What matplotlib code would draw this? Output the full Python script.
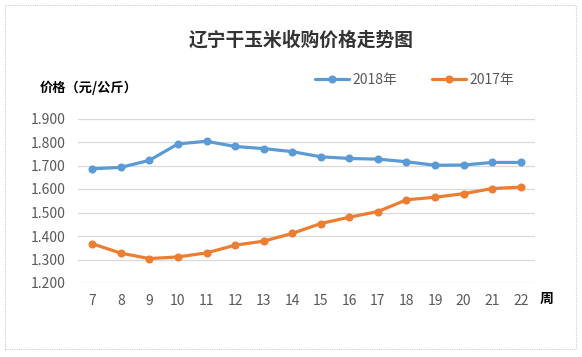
import matplotlib
matplotlib.use("Agg")
import matplotlib.pyplot as plt
from matplotlib.patches import Rectangle

plt.rcParams['font.family'] = ['Noto Sans CJK SC', 'DejaVu Sans']

# week numbers on the x axis
weeks = [7, 8, 9, 10, 11, 12, 13, 14, 15, 16, 17, 18, 19, 20, 21, 22]
# price in yuan / kg
price_2018 = [1.686, 1.692, 1.722, 1.792, 1.803, 1.781, 1.772, 1.759,
              1.737, 1.730, 1.727, 1.716, 1.701, 1.702, 1.713, 1.713]
price_2017 = [1.367, 1.327, 1.304, 1.311, 1.328, 1.361, 1.378, 1.411,
              1.453, 1.480, 1.504, 1.554, 1.565, 1.580, 1.602, 1.608]
y_ticks = [1.2, 1.3, 1.4, 1.5, 1.6, 1.7, 1.8, 1.9]

BLUE = '#5b9bd5'
ORANGE = '#ed7d31'
GRID = '#d9d9d9'
TXT = '#595959'

W, H = 582, 357
fig = plt.figure(figsize=(W / 100, H / 100), dpi=100)

# dotted outer frame
fig.patches.append(Rectangle((5 / W, 1 - 349 / H), 571 / W, 344 / H,
                             transform=fig.transFigure, fill=False,
                             edgecolor='#cfcfcf', linestyle=(0, (1, 1)), lw=0.8))

left, right = 78 / W, 535 / W
top, bottom = 1 - 118.5 / H, 1 - 283 / H
ax = fig.add_axes([left, bottom, right - left, top - bottom])

x = list(range(len(weeks)))
ax.plot(x, price_2018, color=BLUE, lw=2.3, marker='o', ms=4.8, label='2018年',
        solid_capstyle='round', zorder=3)
ax.plot(x, price_2017, color=ORANGE, lw=2.3, marker='o', ms=4.8, label='2017年',
        solid_capstyle='round', zorder=3)

ax.set_xlim(-0.5, len(weeks) - 0.5)
ax.set_ylim(1.2, 1.9)
ax.set_yticks(y_ticks)
ax.set_yticklabels([f'{v:.3f}' for v in y_ticks])
ax.set_xticks(x)
ax.set_xticklabels([str(w) for w in weeks])
ax.tick_params(length=0, colors=TXT, labelsize=10)
ax.tick_params(axis='y', pad=9)
ax.tick_params(axis='x', pad=8)
ax.grid(axis='y', color=GRID, lw=0.9)
ax.set_axisbelow(True)
for s in ax.spines.values():
    s.set_visible(False)

fig.text(301 / W, 1 - 40 / H, '辽宁干玉米收购价格走势图', ha='center', va='center',
         fontsize=13.5, fontweight='bold', color='#333333')
fig.text(40 / W, 1 - 88 / H, '价格（元/公斤）', ha='left', va='center',
         fontsize=9.5, fontweight='bold', color='black')
fig.text(547 / W, 1 - 299 / H, '周', ha='center', va='center',
         fontsize=10, fontweight='bold', color='black')

fig.legend(loc='center', bbox_to_anchor=(415 / W, 1 - 80 / H), ncol=2,
           frameon=False, fontsize=10, handlelength=2.4, columnspacing=2.5,
           handletextpad=0.3, labelcolor=TXT)

fig.savefig('out.png', dpi=100)
